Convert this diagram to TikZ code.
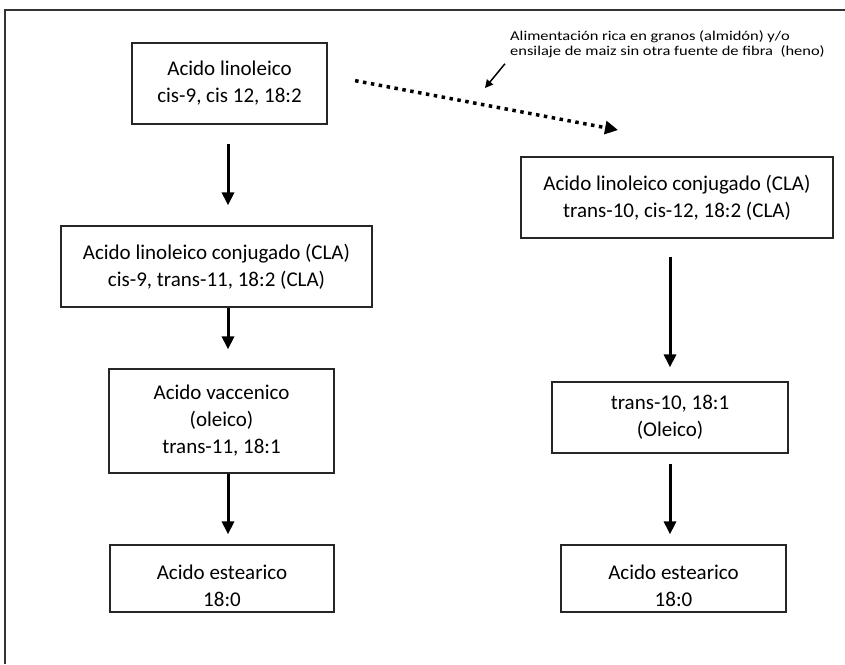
\documentclass[tikz,border=0pt]{standalone}
\usepackage{fontspec}
\setmainfont{Carlito}
\newfontfamily\notefont[FakeStretch=1.22]{Carlito}
\usetikzlibrary{arrows.meta, positioning, calc}

\begin{document}
\begin{tikzpicture}[x=1pt, y=-1pt,
  acid/.style={draw=black!85, line width=1.2pt, align=center, font=\fontsize{21}{27}\selectfont},
  flow/.style={-{Triangle[length=13pt, width=12pt]}, line width=3pt},
  feed/.style={-{Triangle[length=13pt, width=13pt]}, line width=3.5pt, dash pattern=on 3.5pt off 4.5pt},
  hint/.style={-{Triangle[length=8pt, width=8pt]}, line width=1.5pt},
  note/.style={align=left, font=\notefont\fontsize{13.5}{15}\selectfont, inner sep=0pt}
]
  \useasboundingbox (0,0) rectangle (845,664);
  \draw[line width=1.5pt, black!80] (5,664) -- (5,10) -- (845,10);

  \coordinate (colL) at (228,0);
  \coordinate (colR) at (670,0);

  % Left column
  \node[acid, minimum width=195, minimum height=81] (lin) at (229.5,83.5)
    {Acido linoleico\\cis-9, cis 12, 18:2};
  \node[acid, minimum width=311, minimum height=81] (cla11) at (216.5,266.5)
    {Acido linoleico conjugado (CLA)\\cis-9, trans-11, 18:2 (CLA)};
  \node[acid, minimum width=225, minimum height=104] (vac) at (221.5,421)
    {Acido vaccenico\\(oleico)\\trans-11, 18:1};
  \node[acid, minimum width=224, minimum height=67] (estL) at (222,578.5)
    {\rule{0pt}{29pt}Acido estearico\\18:0};

  % Right column
  \node[acid, minimum width=312, minimum height=81] (cla10) at (677,197.5)
    {Acido linoleico conjugado (CLA)\\trans-10, cis-12, 18:2 (CLA)};
  \node[acid, minimum width=236, minimum height=71] (ole) at (670,417.5)
    {trans-10, 18:1\\(Oleico)};
  \node[acid, minimum width=225, minimum height=67] (estR) at (673.5,578.5)
    {\rule{0pt}{29pt}Acido estearico\\18:0};

  \draw[flow, shorten <=19pt, shorten >=20pt] (lin.south -| colL) -- (cla11.north -| colL);
  \draw[flow, shorten >=19pt] (cla11.south -| colL) -- (vac.north -| colL);
  \draw[flow, shorten >=10pt] (vac.south -| colL) -- (estL.north -| colL);
  \draw[flow, shorten <=18pt, shorten >=14pt] (cla10.south -| colR) -- (ole.north -| colR);
  \draw[flow, shorten <=10pt, shorten >=10pt] (ole.south -| colR) -- (estR.north -| colR);

  % Diet shift
  \node[note, anchor=north west] (diet) at (510,30)
    {Alimentación rica en granos (almidón) y/o\\ ensilaje de maiz sin otra fuente de fibra\ \ (heno)};
  \coordinate (feedtip) at (618,130);
  \coordinate (hinttip) at (485,88);
  \draw[feed, shorten <=28pt] ([yshift=8pt]lin.east) -- (feedtip);
  \draw[hint, shorten <=8pt] (diet.south west) -- (hinttip);
\end{tikzpicture}
\end{document}
